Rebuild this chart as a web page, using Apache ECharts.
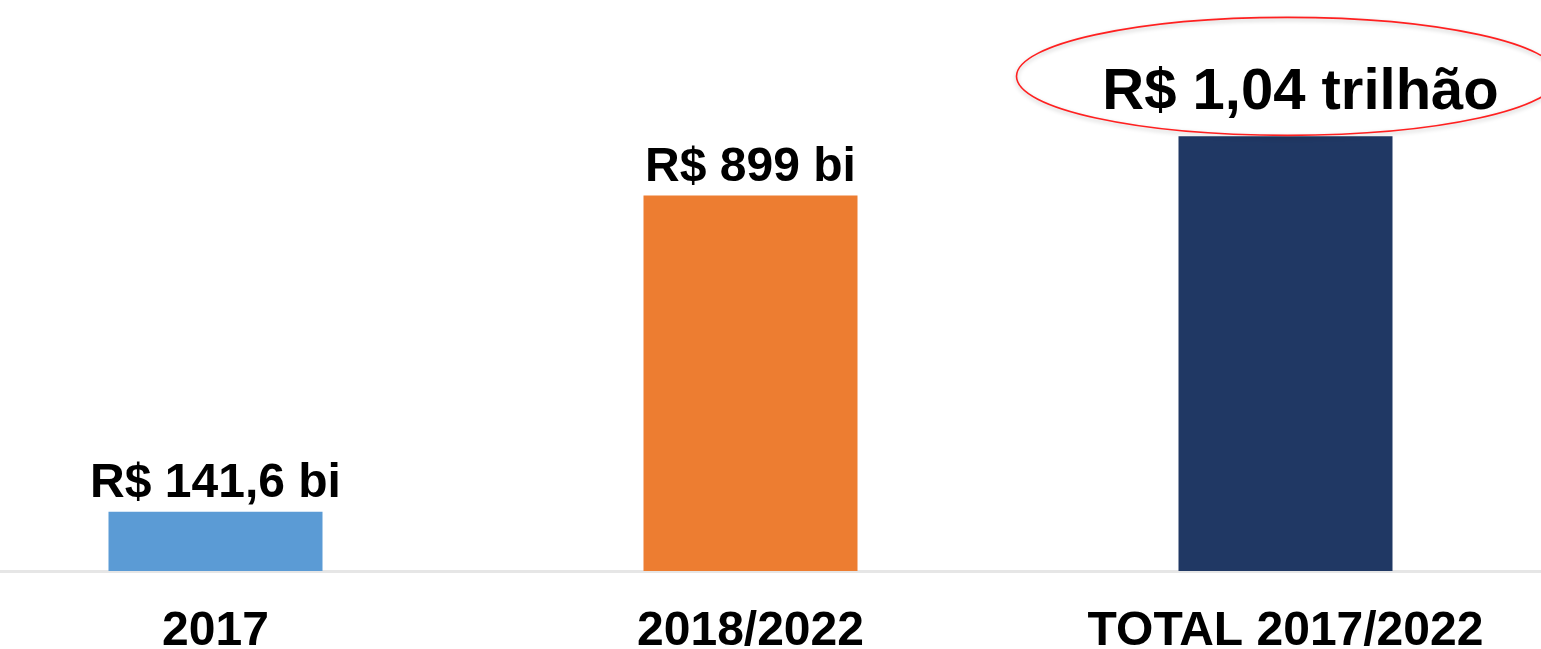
<!DOCTYPE html>
<html>
<head>
<meta charset="utf-8">
<script src="https://cdn.jsdelivr.net/npm/echarts@6/dist/echarts.min.js"></script>
<style>
html,body{margin:0;padding:0;background:#fff;}
#chart{width:1541px;height:649px;}
</style>
</head>
<body>
<div id="chart"></div>
<script>
const categories = ['2017', '2018/2022', 'TOTAL 2017/2022'];
const values = [141.6, 899, 1040.6];
const valueLabels = ['R$ 141,6 bi', 'R$ 899 bi', 'R$ 1,04 trilhão'];
const barColors = ['#5b9bd5', '#ed7d31', '#203864'];

const FONT = '"Liberation Sans", Arial, sans-serif';
const chart = echarts.init(document.getElementById('chart'));

const data = values.map((v, i) => {
  const item = {
    value: v,
    itemStyle: { color: barColors[i] },
    label: { formatter: valueLabels[i] }
  };
  if (i === 2) {
    item.label = {
      formatter: valueLabels[i],
      fontSize: 58,
      offset: [15, -10]
    };
  }
  return item;
});

chart.setOption({
  animation: false,
  backgroundColor: '#ffffff',
  grid: { left: -52, width: 1605, top: 28, bottom: 78, containLabel: false, outerBoundsMode: 'none' },
  xAxis: {
    type: 'category',
    data: categories,
    axisLine: { show: true, lineStyle: { color: '#e6e6e6', width: 3 } },
    axisTick: { show: false },
    axisLabel: {
      fontFamily: FONT, fontWeight: 'bold', fontSize: 48, color: '#000',
      margin: 37, interval: 0
    }
  },
  yAxis: {
    type: 'value', min: 0, max: 1300,
    show: false,
    splitLine: { show: false }
  },
  series: [{
    type: 'bar',
    data: data,
    barWidth: '40%',
    label: {
      show: true, position: 'top', distance: 4,
      fontFamily: FONT, fontWeight: 'bold', fontSize: 48, color: '#000'
    }
  }]
});

// annotation ellipse around the total label, positioned from the bar's scale
const p = chart.convertToPixel({ seriesIndex: 0 }, [2, values[2]]);
chart.setOption({
  graphic: [{
    type: 'ellipse',
    shape: { cx: p[0] + 2, cy: p[1] - 60, rx: 271, ry: 59 },
    style: {
      fill: 'rgba(0,0,0,0)', stroke: '#ff2020', lineWidth: 1.6,
      shadowColor: 'rgba(0,0,0,0.25)', shadowBlur: 4, shadowOffsetY: 2
    },
    z: 100
  }]
});
</script>
</body>
</html>
